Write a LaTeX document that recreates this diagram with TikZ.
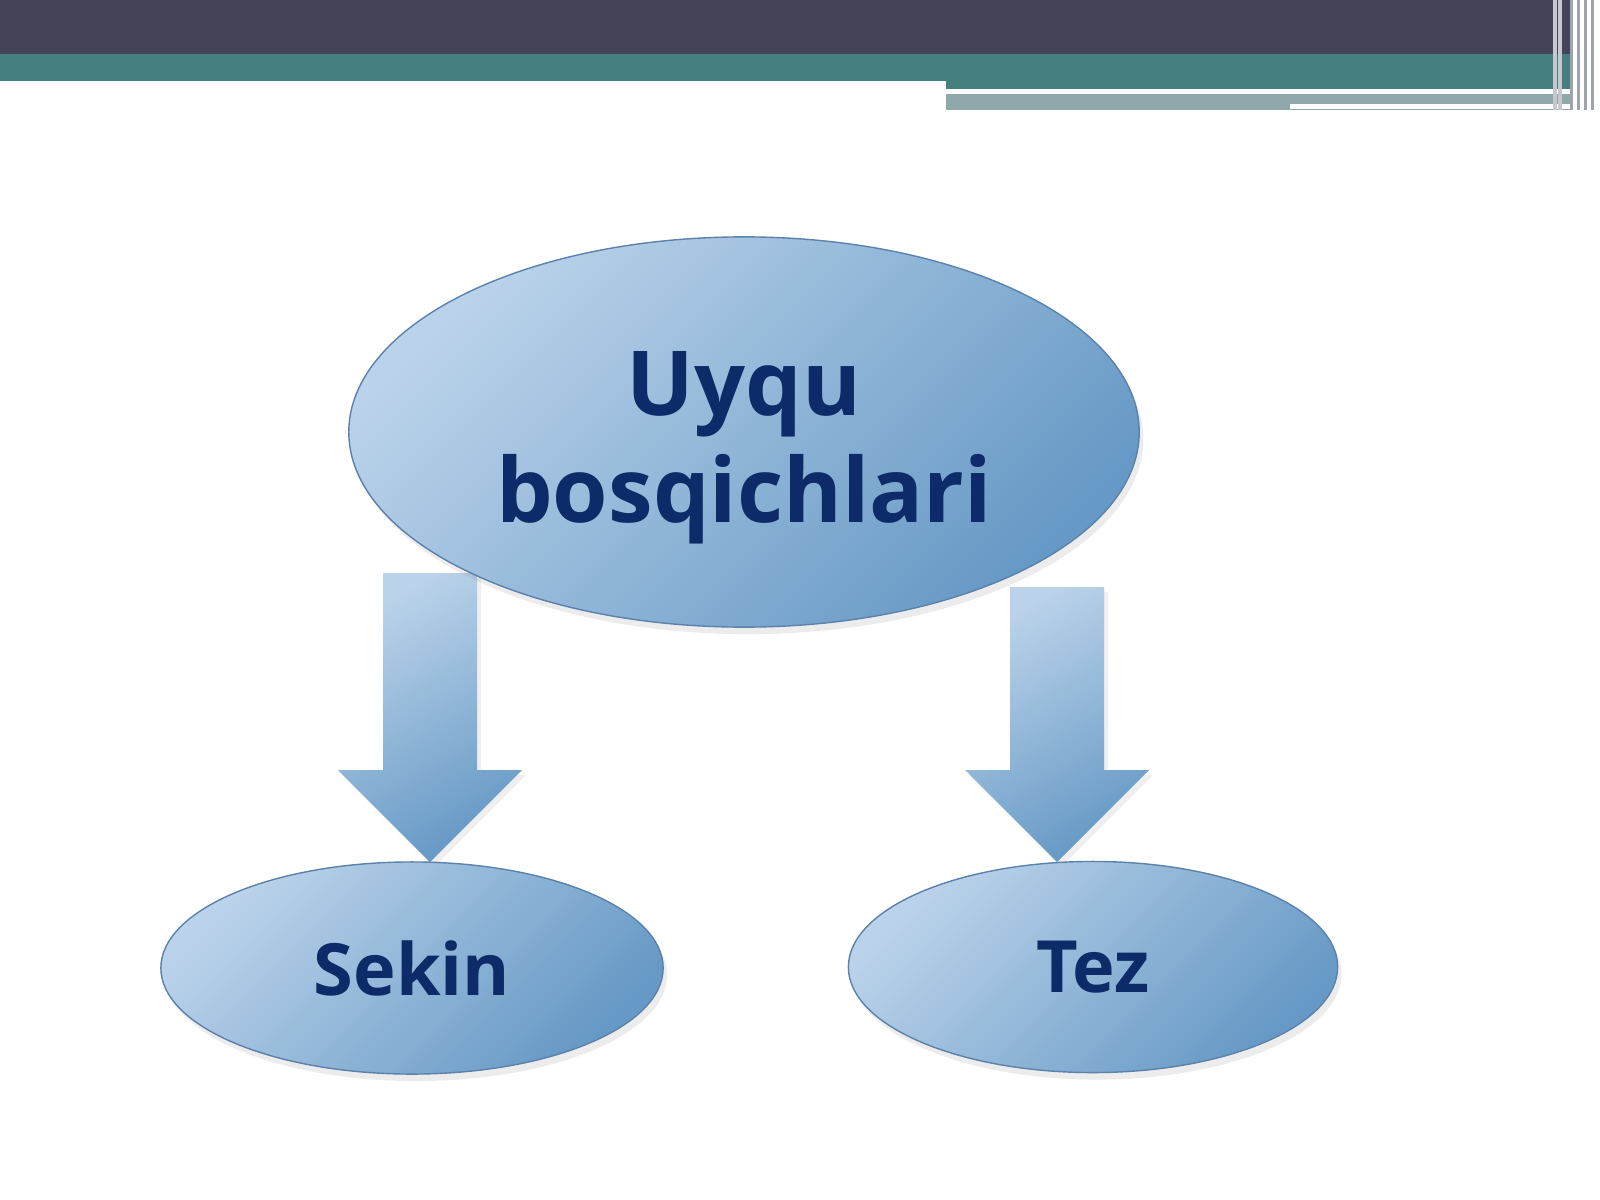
\documentclass[tikz,border=0pt]{standalone}
\usepackage{fontspec}
\setmainfont{Open Sans}
\usetikzlibrary{shapes.geometric,shadows}
\definecolor{barDark}{HTML}{444457}
\definecolor{barTeal}{HTML}{45807F}
\definecolor{barGrey}{HTML}{8FA8AA}
\definecolor{stripeGrey}{HTML}{9EA3AD}
\definecolor{stageLight}{HTML}{BBD3EA}
\definecolor{stageDark}{HTML}{6699C5}
\definecolor{stageLine}{HTML}{5B82AC}
\definecolor{textNavy}{HTML}{0C2B68}
\tikzset{
  stage/.style = {ellipse, draw = stageLine, line width = .4pt, shade,
    top color = stageLight, bottom color = stageDark, shading angle = 45,
    drop shadow = {shadow xshift = .4mm, shadow yshift = -.7mm, opacity = .15},
    text = textNavy, font = \bfseries, align = center, inner sep = 0pt},
  blockarrow/.style = {shade, top color = stageLight, bottom color = stageDark,
    shading angle = 30,
    drop shadow = {shadow xshift = .4mm, shadow yshift = -.5mm, opacity = .12}}
}
\begin{document}
\begin{tikzpicture}[x = .01cm, y = -.01cm]
  \useasboundingbox (0, 0) rectangle (1600, 1200);
  \fill[white] (0, 0) rectangle (1600, 1200);
  % header bars
  \fill[barDark] (0, 0) rectangle (1570, 54);
  \fill[barTeal] (0, 54) rectangle (1570, 81);
  \fill[barTeal] (946, 81) rectangle (1570, 89);
  \fill[white] (946, 89) rectangle (1481, 94);
  \fill[barGrey] (946, 94) rectangle (1570, 110);
  \fill[white] (1290, 104) rectangle (1570, 109);
  \foreach \x in {1553, 1558} \fill[stripeGrey!60] (\x, 0) rectangle ({\x + 4}, 110);
  \foreach \x in {1570, 1577, 1584, 1591} \fill[stripeGrey] (\x, 0) rectangle ({\x + 3}, 110);
  % arrows
  \def\shaft{47}
  \def\head{92}
  \foreach \cx/\ytop in {430/573, 1057/587}
    \path[blockarrow] ({\cx - \shaft}, \ytop) -- ({\cx + \shaft}, \ytop)
      -- ({\cx + \shaft}, 770) -- ({\cx + \head}, 770) -- (\cx, 862)
      -- ({\cx - \head}, 770) -- ({\cx - \shaft}, 770) -- cycle;
  % ellipses
  \node[stage, minimum width = 7.9cm, minimum height = 3.9cm] (stages) at (744, 432) {};
  \node[text = textNavy, align = center, font = \fontsize{25.5}{30.5}\selectfont\bfseries]
    (stagestitle) at ([yshift = -.16cm]stages.center) {Uyqu\\bosqichlari};
  \node[stage, minimum width = 5.02cm, minimum height = 2.12cm,
    font = \fontsize{20.5}{24}\selectfont\bfseries] (slow) at (412, 968) {Sekin};
  \node[stage, minimum width = 4.89cm, minimum height = 2.11cm,
    font = \fontsize{20.5}{24}\selectfont\bfseries] (fast) at (1093, 967) {Tez};
\end{tikzpicture}
\end{document}
